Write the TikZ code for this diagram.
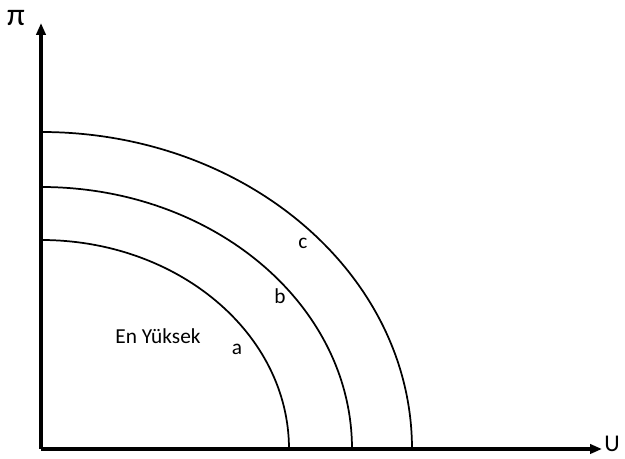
\documentclass[tikz,border=0pt]{standalone}
\usepackage{fontspec}
\setmainfont{Carlito}
\usetikzlibrary{arrows.meta, positioning, calc}

\begin{document}
\begin{tikzpicture}[x=0.75pt, y=0.75pt,
    axis/.style={line width=2.6pt, -{Triangle[length=9pt, width=7pt]}},
    curve/.style={line width=1.3pt},
    every node/.style={inner sep=0pt, font=\fontsize{16}{18}\selectfont}]
    \useasboundingbox (0,0) rectangle (625,459);
    % axes
    \coordinate (O) at (41,10);
    \coordinate (ytop) at (41,436);
    \coordinate (xend) at (602,10);
    \draw[axis] (O) -- (ytop);
    \draw[axis] (O) -- (xend);
    \node[font=\fontsize{24}{26}\selectfont] (pi) at (16,441) {π};
    \node[font=\fontsize{18}{20}\selectfont] (U) at (612,15) {U};
    % curves
    \draw[curve] (41,219) arc[start angle=90, end angle=0, x radius=248, y radius=209];
    \draw[curve] (41,272) arc[start angle=90, end angle=0, x radius=311, y radius=262];
    \draw[curve] (41,327) arc[start angle=90, end angle=0, x radius=371, y radius=317];
    \node (a) at (237,110) {a};
    \node (b) at (280,163) {b};
    \node (c) at (303,216) {c};
    \node (top) at (158,123) {En Yüksek};
\end{tikzpicture}
\end{document}
